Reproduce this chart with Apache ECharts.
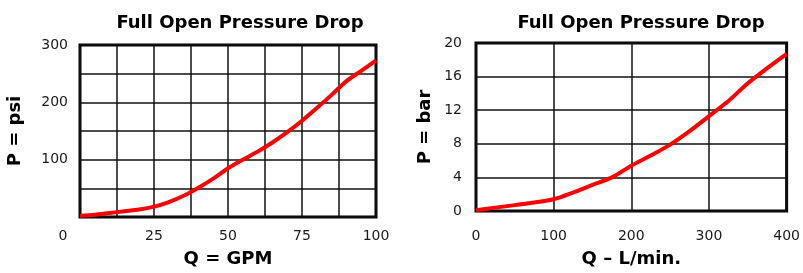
<!DOCTYPE html>
<html>
<head>
<meta charset="utf-8">
<title>Full Open Pressure Drop</title>
<script src="https://cdn.jsdelivr.net/npm/echarts@6/dist/echarts.min.js"></script>
<style>
  html, body { margin: 0; padding: 0; background: #fff; }
  #main { width: 803px; height: 273px; }
</style>
</head>
<body>
<div id="main"></div>
<script>
// left = psi vs GPM, right = bar vs L/min
var gpm = [0, 5, 10, 15, 20, 25, 30, 35, 40, 45, 50, 55, 60, 65, 70, 75, 80, 85, 90, 95, 100];
var psi = [2, 4, 7, 10, 13, 18, 26, 37, 51, 67, 85, 100, 114, 130, 148, 168, 190, 213, 237, 255, 273];

var lpm = [0, 25, 50, 75, 100, 125, 150, 175, 200, 225, 250, 275, 300, 325, 350, 375, 400];
var bar = [0.1, 0.4, 0.7, 1.0, 1.4, 2.2, 3.1, 4.0, 5.4, 6.6, 7.9, 9.5, 11.3, 13.1, 15.2, 17.0, 18.7];

var gpmLabels = [0, 25, 50, 75, 100];
var psiLabels = [100, 200, 300];

function pairs(xs, ys) {
    return xs.map(function (x, i) { return [x, ys[i]]; });
}

var font = 'DejaVu Sans';
var labelStyle = { fontFamily: font, fontSize: 14, color: '#1a1a1a' };
var nameStyle = { fontFamily: font, fontSize: 18, fontWeight: 'bold', color: '#000' };
var split = { show: true, lineStyle: { color: '#111', width: 1.5 } };

var myChart = echarts.init(document.getElementById('main'));

myChart.setOption({
    animation: false,
    title: [{
        text: 'Full Open Pressure Drop',
        left: 235, top: 9, textAlign: 'center',
        textStyle: nameStyle
    }, {
        text: 'Full Open Pressure Drop',
        left: 636, top: 9, textAlign: 'center',
        textStyle: nameStyle
    }],
    grid: [{
        left: 80, right: 427, top: 45, bottom: 56,
        show: true, borderColor: '#000', borderWidth: 3
    }, {
        left: 476, right: 13, top: 43, bottom: 60,
        show: true, borderColor: '#000', borderWidth: 3
    }],
    xAxis: [{
        gridIndex: 0, type: 'value', min: 0, max: 100, interval: 12.5,
        name: 'Q = GPM', nameLocation: 'middle', nameGap: 33, nameTextStyle: nameStyle,
        axisLine: { show: false }, axisTick: { show: false }, splitLine: split,
        axisLabel: Object.assign({}, labelStyle, {
            margin: 12,
            formatter: function (v) {
                if (v === 0) return '{z|0}';
                return gpmLabels.indexOf(v) >= 0 ? String(v) : '';
            },
            rich: { z: { fontFamily: font, fontSize: 14, color: '#1a1a1a', padding: [0, 34, 0, 0] } }
        })
    }, {
        gridIndex: 1, type: 'value', min: 0, max: 400, interval: 100,
        name: 'Q \u2013 L/min.', nameLocation: 'middle', nameGap: 39, nameTextStyle: nameStyle,
        axisLine: { show: false }, axisTick: { show: false }, splitLine: split,
        axisLabel: Object.assign({}, labelStyle, { margin: 18 })
    }],
    yAxis: [{
        gridIndex: 0, type: 'value', min: 0, max: 300, interval: 50,
        name: 'P = psi', nameLocation: 'middle', nameGap: 56, nameTextStyle: nameStyle,
        axisLine: { show: false }, axisTick: { show: false }, splitLine: split,
        axisLabel: Object.assign({}, labelStyle, {
            margin: 12,
            formatter: function (v) { return psiLabels.indexOf(v) >= 0 ? String(v) : ''; }
        })
    }, {
        gridIndex: 1, type: 'value', min: 0, max: 20, interval: 4,
        name: 'P = bar', nameLocation: 'middle', nameGap: 42, nameTextStyle: nameStyle,
        axisLine: { show: false }, axisTick: { show: false }, splitLine: split,
        axisLabel: Object.assign({}, labelStyle, { margin: 14 })
    }],
    series: [{
        type: 'line', xAxisIndex: 0, yAxisIndex: 0,
        data: pairs(gpm, psi), smooth: 0.3, showSymbol: false,
        lineStyle: { color: '#ff0000', width: 4 }
    }, {
        type: 'line', xAxisIndex: 1, yAxisIndex: 1,
        data: pairs(lpm, bar), smooth: 0.3, showSymbol: false,
        lineStyle: { color: '#ff0000', width: 4 }
    }]
});
</script>
</body>
</html>
